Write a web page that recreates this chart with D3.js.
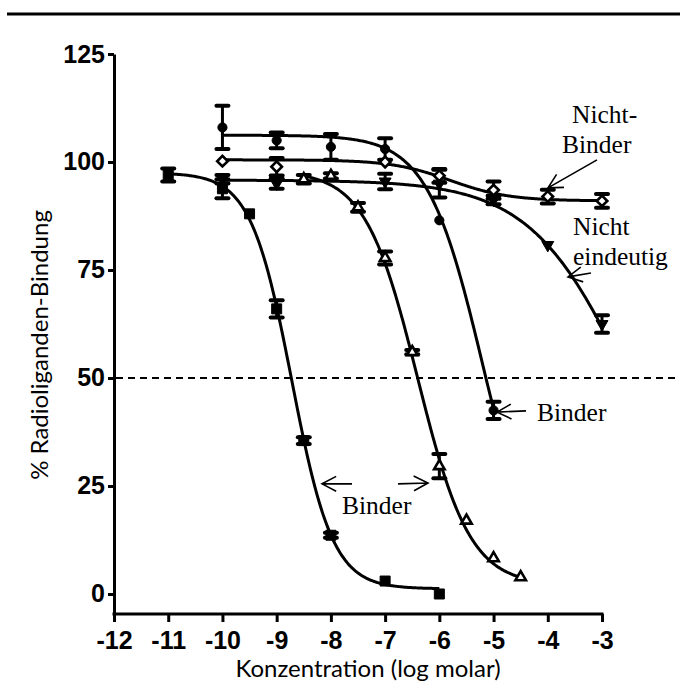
<!DOCTYPE html>
<html>
<head>
<meta charset="utf-8">
<script src="https://cdn.jsdelivr.net/npm/d3@7"></script>
<style>
  body { margin: 0; background: #fff; }
  .tick text { font-family: "Liberation Sans Narrow", "Arial Narrow", "Liberation Sans", Arial, sans-serif; font-weight: bold; font-size: 25px; }
  .note { font-family: "Liberation Serif", "Times New Roman", serif; font-size: 25.5px; }
  .title { font-family: Lato, "Open Sans", sans-serif; font-size: 24px; }
</style>
</head>
<body>
<svg id="chart" width="680" height="687"></svg>
<script>
// axis ticks
const xTicks = [-12, -11, -10, -9, -8, -7, -6, -5, -4, -3];
const yTicks = [0, 25, 50, 75, 100, 125];

// filled squares (binder)
const sqX = [-11, -10, -9.5, -9, -8.5, -8, -7, -6];
const sqY = [97, 93.8, 88, 66, 35.5, 13.6, 3, 0];
const sqErr = [1.5, 2.2, 0, 2, 0.8, 0.6, 0, 0];

// filled circles (binder)
const ciX = [-10, -9, -8, -7, -6, -5];
const ciY = [108, 105, 103.5, 103, 86.5, 42.5];
const ciErr = [5, 1.8, 3, 2.5, 0, 2];

// open triangles (binder)
const trX = [-8.5, -8, -7.5, -7, -6.5, -6, -5.5, -5, -4.5];
const trY = [96, 96.8, 89.5, 77.8, 56, 29.6, 17, 8.3, 3.9];
const trErr = [1, 0.6, 1, 1.5, 0.5, 2.8, 0, 0, 0];

// filled down-triangles (nicht eindeutig)
const tdX = [-10, -9, -7, -6, -5, -4, -3];
const tdY = [96, 95, 95.5, 95, 91.2, 80.8, 62.5];
const tdErr = [1, 1.2, 1.8, 3.2, 1, 0, 2];

// open diamonds (nicht-binder)
const diX = [-10, -9, -7, -6, -5, -4, -3];
const diY = [100.2, 98.9, 100, 96.8, 93.5, 92, 91];
const diErr = [0, 2, 0, 1.6, 2, 1.6, 1.6];

// sigmoid fit parameters: top, bottom, logIC50, hill, first x, last x
const fitNames = ["square", "circle", "triangle", "down", "diamond"];
const fitTop = [97.5, 106.2, 98, 95.8, 100.5];
const fitBottom = [1.2, 0, 2, 0, 91];
const fitLogIC50 = [-8.72, -5.2, -6.4, -2.45, -5.8];
const fitHill = [1.15, 0.85, 0.9, 0.47, 0.8];
const fitFrom = [-11, -10, -8.5, -10, -10];
const fitTo = [-6, -5, -4.5, -3, -3];

// annotation texts [x, y] in data units
const noteText = ["Nicht-", "Binder", "Nicht", "eindeutig", "Binder", "Binder"];
const noteX = [-3.553, -3.737, -3.535, -3.535, -4.198, -7.795];
const noteY = [109.0, 102.1, 83.1, 76.2, 40.05, 18.5];

// arrows: tip and tail in data units
const arrowTipX = [-3.996, -3.627, -4.936, -8.164, -6.209];
const arrowTipY = [94.0, 73.4, 42.1, 25.5, 25.7];
const arrowTailX = [-3.092, -3.203, -4.401, -7.61, -6.762];
const arrowTailY = [100.5, 74.3, 42.4, 25.5, 25.5];

const svg = d3.select("#chart");

const x = d3.scaleLinear().domain([-12, -3]).range([114, 602]);
const y = d3.scaleLinear().domain([-4.63, 125]).range([614, 54]);

// top rule
svg.append("line")
    .attr("x1", 7).attr("x2", 680)
    .attr("y1", 14).attr("y2", 14)
    .attr("stroke", "#000").attr("stroke-width", 3);

// axes
const xAxis = d3.axisBottom(x).tickValues(xTicks).tickSize(8).tickSizeOuter(0).tickPadding(9).tickFormat(d3.format("d"));
const yAxis = d3.axisLeft(y).tickValues(yTicks).tickSize(6).tickSizeOuter(0).tickPadding(3).tickFormat(d3.format("d"));

const gx = svg.append("g").attr("transform", `translate(0,${y(-4.63)})`).call(xAxis);
const gy = svg.append("g").attr("transform", `translate(${x(-12)},0)`).call(yAxis);
[gx, gy].forEach(g => {
    g.select(".domain").attr("stroke-width", 3).attr("stroke", "#000");
    g.selectAll(".tick line").attr("stroke-width", 3).attr("stroke", "#000");
    g.selectAll(".tick text").attr("fill", "#000");
});
gx.select(".domain").attr("d", `M${x(-12) - 1.5},0H${x(-3) + 1.5}`);
gx.selectAll(".tick text").text(d => d < 0 ? "-" + Math.abs(d) : d);

// axis titles
svg.append("text")
    .attr("class", "title")
    .attr("transform", "translate(48,345) rotate(-90)")
    .attr("text-anchor", "middle")
    .text("% Radioliganden-Bindung");

svg.append("text")
    .attr("class", "title")
    .attr("x", 368).attr("y", 677)
    .attr("text-anchor", "middle")
    .text("Konzentration (log molar)");

// 50% line
svg.append("line")
    .attr("x1", x(-12) + 2).attr("x2", 680)
    .attr("y1", y(50)).attr("y2", y(50))
    .attr("stroke", "#000").attr("stroke-width", 2)
    .attr("stroke-dasharray", "7,5");

// fitted curves
const line = d3.line().x(d => x(d[0])).y(d => y(d[1]));
fitNames.forEach((name, i) => {
    const pts = d3.range(fitFrom[i], fitTo[i] + 0.001, 0.02).map(c => [c,
        fitBottom[i] + (fitTop[i] - fitBottom[i]) / (1 + Math.pow(10, (c - fitLogIC50[i]) * fitHill[i]))]);
    svg.append("path")
        .datum(pts)
        .attr("class", "fit " + name)
        .attr("fill", "none")
        .attr("stroke", "#000")
        .attr("stroke-width", 3)
        .attr("d", line);
});

const series = [
    { xs: diX, ys: diY, err: diErr, shape: "diamond" },
    { xs: tdX, ys: tdY, err: tdErr, shape: "down" },
    { xs: trX, ys: trY, err: trErr, shape: "triangle" },
    { xs: ciX, ys: ciY, err: ciErr, shape: "circle" },
    { xs: sqX, ys: sqY, err: sqErr, shape: "square" }
];

// error bars
series.forEach(s => {
    const g = svg.append("g").attr("class", "err " + s.shape);
    s.xs.forEach((cx, i) => {
        if (!s.err[i]) return;
        const px = x(cx), top = y(s.ys[i] + s.err[i]), bot = y(s.ys[i] - s.err[i]);
        g.append("line").attr("x1", px).attr("x2", px).attr("y1", top).attr("y2", bot)
            .attr("stroke", "#000").attr("stroke-width", 3);
        [top, bot].forEach(cy => {
            g.append("line").attr("x1", px - 6).attr("x2", px + 6).attr("y1", cy).attr("y2", cy)
                .attr("stroke", "#000").attr("stroke-width", 4).attr("stroke-linecap", "round");
        });
    });
});

// markers
const symbolFor = {
    square: { type: d3.symbolSquare, size: 100, rot: 0, fill: "#000" },
    circle: { type: d3.symbolCircle, size: 66, rot: 0, fill: "#000" },
    triangle: { type: d3.symbolTriangle, size: 48, rot: 0, fill: "#fff" },
    down: { type: d3.symbolTriangle, size: 62, rot: 180, fill: "#000" },
    diamond: { type: d3.symbolSquare, size: 56, rot: 45, fill: "#fff" }
};
series.forEach(s => {
    const sym = symbolFor[s.shape];
    svg.append("g").attr("class", "pts " + s.shape)
        .selectAll("path")
        .data(s.xs.map((cx, i) => [cx, s.ys[i]]))
        .join("path")
        .attr("d", d3.symbol(sym.type, sym.size))
        .attr("transform", d => `translate(${x(d[0])},${y(d[1])}) rotate(${sym.rot})`)
        .attr("fill", sym.fill)
        .attr("stroke", "#000")
        .attr("stroke-width", sym.fill === "#fff" ? 2.6 : 1)
        .attr("stroke-linejoin", "miter");
});

// annotations
svg.append("g").selectAll("text")
    .data(noteText.map((t, i) => ({ t, x: noteX[i], y: noteY[i] })))
    .join("text")
    .attr("class", "note")
    .attr("x", d => x(d.x))
    .attr("y", d => y(d.y))
    .text(d => d.t);

const arrows = svg.append("g").attr("stroke", "#000").attr("stroke-width", 1.6).attr("fill", "none");
arrowTipX.forEach((tx, i) => {
    const x1 = x(tx), y1 = y(arrowTipY[i]), x2 = x(arrowTailX[i]), y2 = y(arrowTailY[i]);
    const ang = Math.atan2(y2 - y1, x2 - x1);
    const len = 16, spread = Math.PI / 6.5;
    const h1 = [x1 + len * Math.cos(ang + spread), y1 + len * Math.sin(ang + spread)];
    const h2 = [x1 + len * Math.cos(ang - spread), y1 + len * Math.sin(ang - spread)];
    arrows.append("path").attr("d", `M${x2},${y2}L${x1},${y1}M${h1[0]},${h1[1]}L${x1},${y1}L${h2[0]},${h2[1]}`);
});
</script>
</body>
</html>
